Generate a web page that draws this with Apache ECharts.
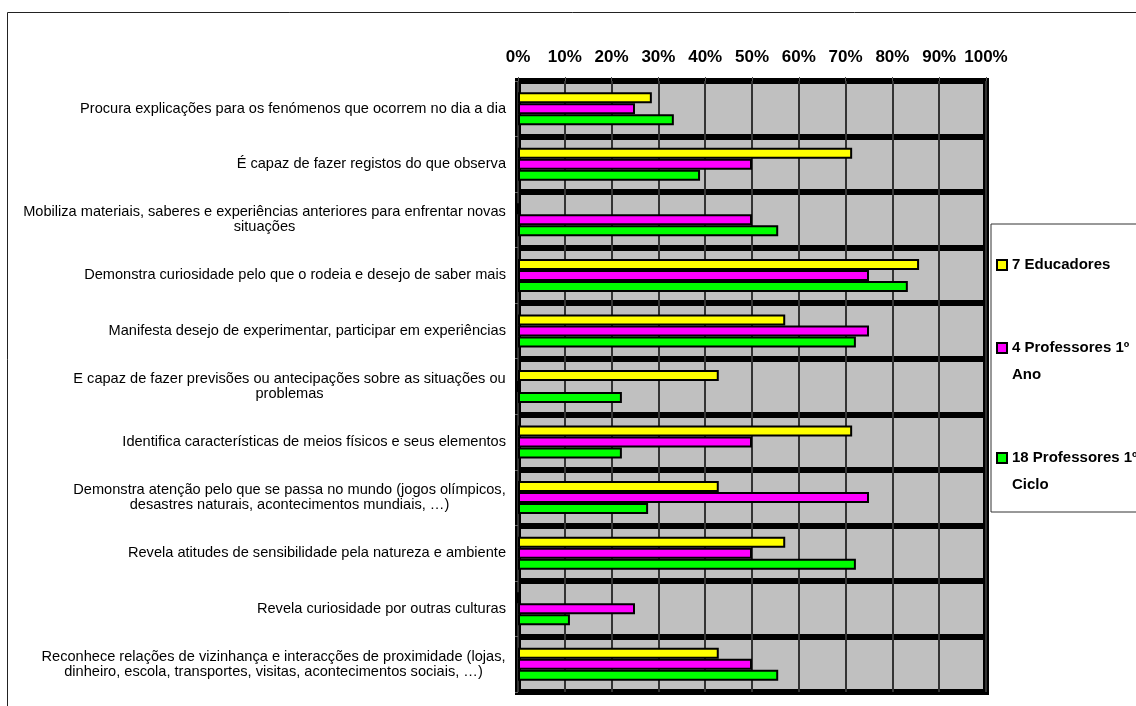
<!DOCTYPE html>
<html>
<head>
<meta charset="utf-8">
<script src="https://cdn.jsdelivr.net/npm/echarts@6/dist/echarts.min.js"></script>
<style>
html,body{margin:0;padding:0;background:#fff;}
#chart{width:1136px;height:706px;}
</style>
</head>
<body>
<div id="chart"></div>
<script>
const categories = [
  "Procura explicações para os fenómenos que ocorrem no dia a dia",
  "É capaz de fazer registos do que observa",
  "Mobiliza materiais, saberes e experiências anteriores para enfrentar novas\nsituações",
  "Demonstra curiosidade pelo que o rodeia e desejo de saber mais",
  "Manifesta desejo de experimentar, participar em experiências",
  "E capaz de fazer previsões ou antecipações sobre as situações ou\nproblemas",
  "Identifica características de meios físicos e seus elementos",
  "Demonstra atenção pelo que se passa no mundo (jogos olímpicos,\ndesastres naturais, acontecimentos mundiais, …)",
  "Revela atitudes de sensibilidade pela natureza e ambiente",
  "Revela curiosidade por outras culturas",
  "Reconhece relações de vizinhança e interacções de proximidade (lojas,\ndinheiro, escola, transportes, visitas, acontecimentos sociais, …)"
];
const seriesNames = ["7 Educadores", "4 Professores 1º Ano", "18 Professores 1º Ciclo"];
const educadores = [28.6, 71.4, 0, 85.7, 57.1, 42.9, 71.4, 42.9, 57.1, 0, 42.9];
const professores1Ano = [25, 50, 50, 75, 75, 0, 50, 75, 50, 25, 50];
const professores1Ciclo = [33.3, 38.9, 55.6, 83.3, 72.2, 22.2, 22.2, 27.8, 72.2, 11.1, 55.6];
const xTicks = [0, 10, 20, 30, 40, 50, 60, 70, 80, 90, 100];

const FONT = "'Liberation Sans', Arial, sans-serif";
const LABEL_SIZE = 14.6;
const ctx = document.createElement('canvas').getContext('2d');
ctx.font = LABEL_SIZE + "px 'Liberation Sans'";
const rich = {};
categories.forEach((c, i) => {
  const lines = c.split('\n');
  if (lines.length > 1) {
    const w = Math.ceil(Math.max(...lines.map(l => ctx.measureText(l).width)));
    rich['c' + i] = {width: w, align: 'center', fontSize: LABEL_SIZE, fontFamily: FONT, color: '#000', lineHeight: 15};
  }
});

const colors = ['#ffff00', '#ff00ff', '#00ff00'];
const data = [educadores, professores1Ano, professores1Ciclo];

const chart = echarts.init(document.getElementById('chart'), null, {renderer: 'canvas'});
chart.setOption({
  animation: false,
  backgroundColor: '#fff',
  graphic: [{
    type: 'rect', silent: true, z: -10,
    shape: {x: 7.5, y: 12.5, width: 1300, height: 900},
    style: {fill: 'none', stroke: '#222', lineWidth: 1}
  }],
  grid: {
    left: 518, right: 150, top: 81, bottom: 14,
    show: true, backgroundColor: '#c0c0c0', borderColor: '#000', borderWidth: 6
  },
  legend: {
    orient: 'vertical', left: 991, top: 224,
    padding: [27.5, 5, 13.5, 5],
    itemGap: 29, itemWidth: 10, itemHeight: 10, icon: 'rect',
    borderColor: '#333', borderWidth: 1, backgroundColor: '#fff',
    data: seriesNames,
    formatter: function (name) {
      const k = name.indexOf(' 1º ');
      if (k >= 0) return '\n' + name.slice(0, k + 3) + '\n' + name.slice(k + 4);
      return name;
    },
    textStyle: {fontFamily: FONT, fontWeight: 'bold', fontSize: 15, color: '#000', lineHeight: 27}
  },
  xAxis: {
    type: 'value', position: 'top', min: 0, max: 100, interval: 10,
    axisLine: {show: false},
    axisTick: {show: true, length: 4, lineStyle: {color: '#555'}},
    axisLabel: {
      margin: 15, fontFamily: FONT, fontWeight: 'bold', fontSize: 17, color: '#000',
      formatter: function (v) { return xTicks.indexOf(v) >= 0 ? v + '%' : ''; }
    },
    splitLine: {show: true, lineStyle: {color: '#333', width: 2}}
  },
  yAxis: {
    type: 'category', inverse: true, data: categories,
    axisLine: {show: false},
    axisTick: {show: true, length: 3, lineStyle: {color: '#666'}},
    splitLine: {show: true, interval: 0, lineStyle: {color: '#000', width: 6}},
    axisLabel: {
      interval: 0, margin: 12, align: 'right',
      fontFamily: FONT, fontSize: LABEL_SIZE, color: '#000', lineHeight: 15,
      rich: rich,
      formatter: function (value, idx) {
        const lines = value.split('\n');
        if (lines.length === 1) return value;
        return lines.map(l => '{c' + idx + '|' + l + '}').join('\n');
      }
    }
  },
  series: seriesNames.map((n, i) => ({
    name: n, type: 'bar', data: data[i],
    barWidth: 11, barGap: '0%',
    itemStyle: {color: colors[i], borderColor: '#000', borderWidth: 2}
  }))
});
</script>
</body>
</html>
